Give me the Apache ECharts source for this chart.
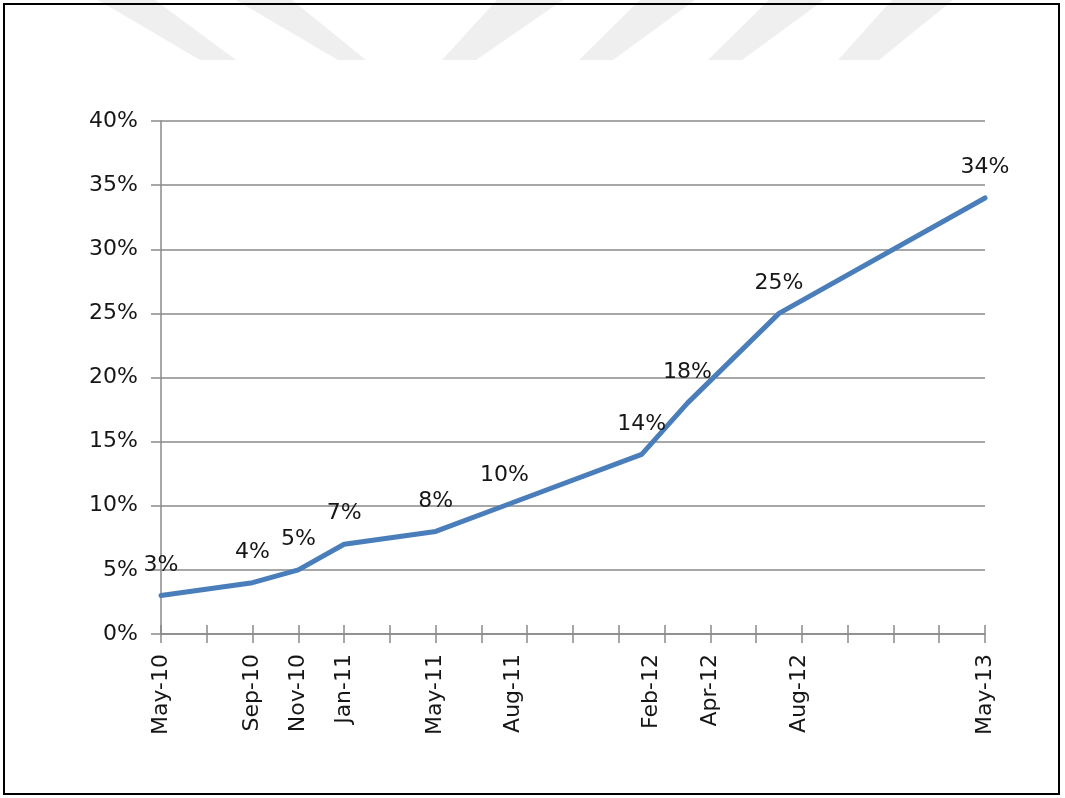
<!DOCTYPE html>
<html>
<head>
<meta charset="utf-8">
<title>Share over time</title>
<script src="https://cdn.jsdelivr.net/npm/echarts@6/dist/echarts.min.js"></script>
<style>
  html, body { margin: 0; padding: 0; background: #fff; }
  #chart { width: 1065px; height: 798px; }
</style>
</head>
<body>
<div id="chart"></div>
<script>
// Observation dates, as months elapsed since May 2010
const months = [0, 4, 6, 8, 12, 15, 21, 23, 27, 36];
// Share at each date (%)
const shares = [3, 4, 5, 7, 8, 10, 14, 18, 25, 34];
// Date labels printed under the axis and where they sit (months since May 2010)
const dateLabels = ['May-10', 'Sep-10', 'Nov-10', 'Jan-11', 'May-11', 'Aug-11', 'Feb-12', 'Apr-12', 'Aug-12', 'May-13'];
const dateLabelMonths = [0, 4, 6, 8, 12, 15.4, 21.4, 24, 27.9, 36];
// Axis ranges
const xMin = 0, xMax = 36, xStep = 2;
const yMin = 0, yMax = 40, yStep = 5;

const FONT = 'DejaVu Sans';
const FONT_SIZE = 22;
const TEXT = '#161616';
const GRID = '#8a8a8a';

const points = months.map((m, i) => [m, shares[i]]);

const chart = echarts.init(document.getElementById('chart'), null, { renderer: 'canvas' });

// faint diagonal watermark bands across the top edge
const bandFill = '#efefef';
const bands = [
  [[98, 0], [155, 0], [236, 60], [200, 60]],
  [[236, 0], [292, 0], [366, 60], [338, 60]],
  [[497, 0], [563, 0], [476, 60], [442, 60]],
  [[640, 0], [695, 0], [613, 60], [579, 60]],
  [[769, 0], [824, 0], [742, 60], [708, 60]],
  [[892, 0], [953, 0], [879, 60], [838, 60]]
].map(pts => ({
  type: 'polygon',
  silent: true,
  z: -10,
  shape: { points: pts },
  style: { fill: bandFill }
}));

const xBase = {
  type: 'value',
  min: xMin,
  max: xMax,
  interval: xStep,
  position: 'bottom',
  splitLine: { show: false }
};

chart.setOption({
  backgroundColor: '#fff',
  animation: false,
  graphic: bands.concat([{
    type: 'rect',
    silent: true,
    z: 100,
    shape: { x: 4, y: 4, width: 1055, height: 790 },
    style: { fill: 'none', stroke: '#000', lineWidth: 2 }
  }]),
  grid: { left: 161, right: 80, top: 121, bottom: 164, containLabel: false },
  xAxis: [
    Object.assign({}, xBase, {
      axisLine: { show: true, lineStyle: { color: GRID, width: 1.5 } },
      axisTick: { show: true, inside: false, length: 9, lineStyle: { color: GRID, width: 1.5 } },
      axisLabel: {
        show: true,
        customValues: dateLabelMonths,
        rotate: 90,
        margin: 20,
        color: TEXT,
        fontFamily: FONT,
        fontSize: FONT_SIZE,
        formatter: v => {
          const i = dateLabelMonths.findIndex(m => Math.abs(m - v) < 1e-6);
          return i >= 0 ? dateLabels[i] : '';
        }
      }
    }),
    Object.assign({}, xBase, {
      axisLine: { show: false },
      axisTick: { show: true, inside: true, length: 9, lineStyle: { color: GRID, width: 1.5 } },
      axisLabel: { show: false }
    })
  ],
  yAxis: {
    type: 'value',
    min: yMin,
    max: yMax,
    interval: yStep,
    axisLine: { show: true, lineStyle: { color: GRID, width: 1.5 } },
    axisTick: { show: true, inside: false, length: 10, lineStyle: { color: GRID, width: 1.5 } },
    splitLine: { show: true, lineStyle: { color: GRID, width: 1.5 } },
    axisLabel: {
      margin: 23,
      color: TEXT,
      fontFamily: FONT,
      fontSize: FONT_SIZE,
      formatter: '{value}%'
    }
  },
  series: [{
    type: 'line',
    xAxisIndex: 0,
    data: points,
    symbol: 'circle',
    symbolSize: 1,
    itemStyle: { color: '#4a7ebb' },
    lineStyle: { color: '#4a7ebb', width: 5, cap: 'round', join: 'round' },
    label: {
      show: true,
      position: 'top',
      distance: 19,
      color: TEXT,
      fontFamily: FONT,
      fontSize: FONT_SIZE,
      formatter: p => p.value[1] + '%'
    },
    z: 5
  }]
});
</script>
</body>
</html>
